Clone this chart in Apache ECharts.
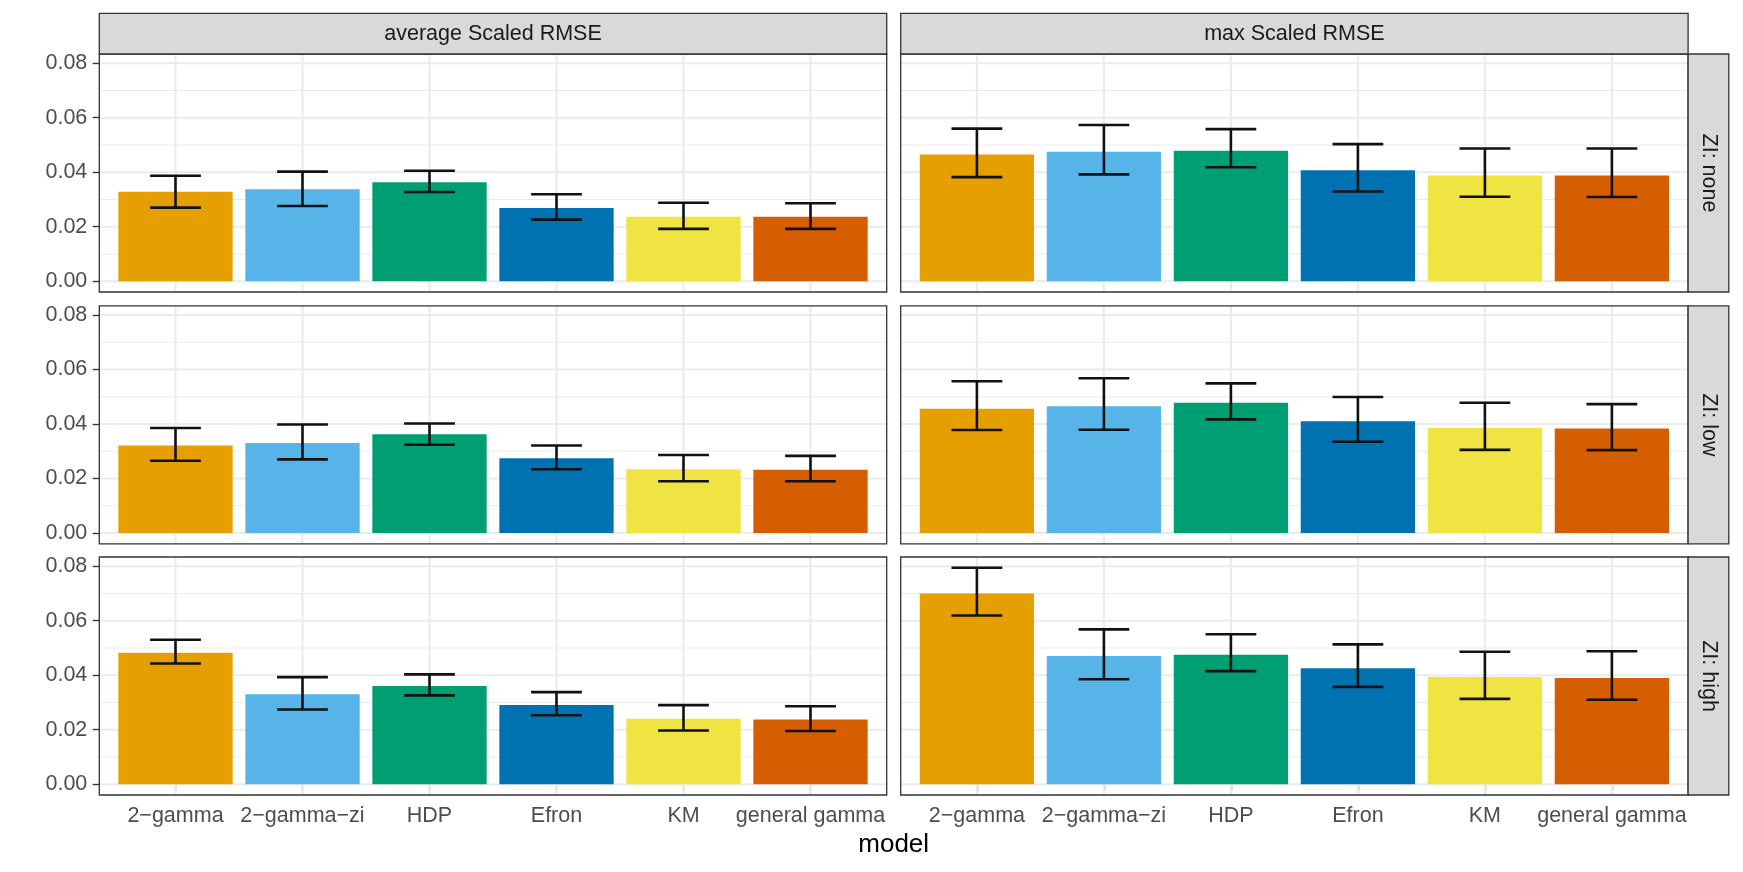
<!DOCTYPE html>
<html>
<head>
<meta charset="utf-8">
<script src="https://cdn.jsdelivr.net/npm/echarts@6/dist/echarts.min.js"></script>
<style>
html,body{margin:0;padding:0;background:#fff;}
#chart{width:1743px;height:872px;}
</style>
</head>
<body>
<div id="chart"></div>
<script>
// ---------- data ----------
const models = ['2\u2212gamma', '2\u2212gamma\u2212zi', 'HDP', 'Efron', 'KM', 'general gamma'];
const colTitles = ['average Scaled RMSE', 'max Scaled RMSE'];
const rowTitles = ['ZI: none', 'ZI: low', 'ZI: high'];
const yTickValues = [0, 0.02, 0.04, 0.06, 0.08];
const yMinorValues = [0.01, 0.03, 0.05, 0.07];
const barColors = ['#E69F00', '#56B4E9', '#009E73', '#0072B2', '#F0E442', '#D55E00'];

const avgNone   = [0.0328, 0.0337, 0.0363, 0.0269, 0.0236, 0.0236];
const avgNoneLo = [0.0270, 0.0276, 0.0327, 0.0226, 0.0192, 0.0192];
const avgNoneHi = [0.0387, 0.0402, 0.0405, 0.0319, 0.0288, 0.0286];

const maxNone   = [0.0465, 0.0475, 0.0479, 0.0407, 0.0388, 0.0388];
const maxNoneLo = [0.0382, 0.0392, 0.0418, 0.0329, 0.0310, 0.0309];
const maxNoneHi = [0.0560, 0.0573, 0.0558, 0.0503, 0.0487, 0.0487];

const avgLow   = [0.0321, 0.0330, 0.0362, 0.0274, 0.0234, 0.0232];
const avgLowLo = [0.0265, 0.0270, 0.0324, 0.0234, 0.0190, 0.0190];
const avgLowHi = [0.0385, 0.0398, 0.0402, 0.0321, 0.0286, 0.0283];

const maxLow   = [0.0456, 0.0465, 0.0478, 0.0410, 0.0385, 0.0383];
const maxLowLo = [0.0378, 0.0379, 0.0417, 0.0335, 0.0305, 0.0304];
const maxLowHi = [0.0557, 0.0568, 0.0549, 0.0499, 0.0478, 0.0473];

const avgHigh   = [0.0482, 0.0330, 0.0360, 0.0291, 0.0240, 0.0237];
const avgHighLo = [0.0443, 0.0274, 0.0326, 0.0253, 0.0197, 0.0195];
const avgHighHi = [0.0530, 0.0393, 0.0403, 0.0338, 0.0290, 0.0286];

const maxHigh   = [0.0700, 0.0470, 0.0475, 0.0425, 0.0393, 0.0390];
const maxHighLo = [0.0619, 0.0385, 0.0415, 0.0357, 0.0313, 0.0310];
const maxHighHi = [0.0794, 0.0568, 0.0550, 0.0513, 0.0486, 0.0488];

// ---------- layout ----------
const FONT = '"Liberation Sans", Arial, Helvetica, sans-serif';
const colLeft = [99.3, 900.7];
const panelW = 787.4;
const rowTop = [54, 305.8, 557];
const panelH = 238;
const stripH = 40.7;

const panels = [
  [[avgNone, avgNoneLo, avgNoneHi], [maxNone, maxNoneLo, maxNoneHi]],
  [[avgLow, avgLowLo, avgLowHi], [maxLow, maxLowLo, maxLowHi]],
  [[avgHigh, avgHighLo, avgHighHi], [maxHigh, maxHighLo, maxHighHi]]
];

let hiMax = 0;
panels.forEach(r => r.forEach(p => p[2].forEach(v => { if (v > hiMax) hiMax = v; })));
const yMin = -0.05 * hiMax;
const yMax = 1.05 * hiMax;

const grids = [], xAxes = [], yAxes = [], series = [];
let gi = 0;
for (let r = 0; r < 3; r++) {
  for (let c = 0; c < 2; c++) {
    const [vals, lo, hi] = panels[r][c];
    grids.push({
      left: colLeft[c], top: rowTop[r], width: panelW, height: panelH,
      show: true, borderColor: '#333333', borderWidth: 1.3, backgroundColor: 'transparent', z: 5
    });
    const bottomRow = r === 2;
    const leftCol = c === 0;
    xAxes.push({
      type: 'value', gridIndex: gi, min: 0.4, max: 6.6,
      axisLine: { show: false },
      splitLine: { show: false },
      axisTick: { show: bottomRow, length: 6.6, lineStyle: { color: '#333333', width: 1.3 }, customValues: [1, 2, 3, 4, 5, 6] },
      axisLabel: {
        show: bottomRow, customValues: [1, 2, 3, 4, 5, 6], margin: 10,
        formatter: v => models[Math.round(v) - 1], color: '#4D4D4D', fontSize: 21.5, fontFamily: FONT
      }
    });
    yAxes.push({
      type: 'value', gridIndex: gi, min: yMin, max: yMax,
      axisLine: { show: false },
      splitLine: { show: false },
      axisTick: { show: leftCol, length: 6.6, lineStyle: { color: '#333333', width: 1.3 }, customValues: yTickValues },
      axisLabel: {
        show: leftCol, customValues: yTickValues, margin: 12,
        formatter: v => v.toFixed(2), color: '#4D4D4D', fontSize: 21.5, fontFamily: FONT
      }
    });
    // background grid lines
    series.push({
      type: 'custom', xAxisIndex: gi, yAxisIndex: gi, silent: true, z: 1,
      data: [[1, 0]],
      renderItem: (params, api) => {
        const ch = [];
        yMinorValues.forEach(v => {
          const a = api.coord([0.4, v]), b = api.coord([6.6, v]);
          ch.push({ type: 'line', shape: { x1: a[0], y1: a[1], x2: b[0], y2: b[1] }, style: { stroke: '#EBEBEB', lineWidth: 1.1 } });
        });
        yTickValues.forEach(v => {
          const a = api.coord([0.4, v]), b = api.coord([6.6, v]);
          ch.push({ type: 'line', shape: { x1: a[0], y1: a[1], x2: b[0], y2: b[1] }, style: { stroke: '#EBEBEB', lineWidth: 2.1 } });
        });
        [1, 2, 3, 4, 5, 6].forEach(v => {
          const a = api.coord([v, yMin]), b = api.coord([v, yMax]);
          ch.push({ type: 'line', shape: { x1: a[0], y1: a[1], x2: b[0], y2: b[1] }, style: { stroke: '#EBEBEB', lineWidth: 2.1 } });
        });
        return { type: 'group', children: ch };
      }
    });
    // bars
    series.push({
      type: 'custom', xAxisIndex: gi, yAxisIndex: gi, silent: true, z: 2,
      encode: { x: 0, y: 1 },
      data: vals.map((v, i) => [i + 1, v, i]),
      renderItem: (params, api) => {
        const x = api.value(0), y = api.value(1), idx = api.value(2);
        const p0 = api.coord([x - 0.45, 0]);
        const p1 = api.coord([x + 0.45, y]);
        return {
          type: 'rect',
          shape: { x: p0[0], y: p1[1], width: p1[0] - p0[0], height: p0[1] - p1[1] },
          style: { fill: barColors[idx] }
        };
      }
    });
    // error bars
    series.push({
      type: 'custom', xAxisIndex: gi, yAxisIndex: gi, silent: true, z: 3,
      encode: { x: 0, y: [1, 2] },
      data: lo.map((l, i) => [i + 1, l, hi[i]]),
      renderItem: (params, api) => {
        const x = api.value(0), l = api.value(1), h = api.value(2);
        const pl = api.coord([x, l]), ph = api.coord([x, h]);
        const cl = api.coord([x - 0.2, l]), cr = api.coord([x + 0.2, l]);
        const st = { stroke: '#111111', lineWidth: 2.6 };
        return {
          type: 'group', children: [
            { type: 'line', shape: { x1: pl[0], y1: pl[1], x2: ph[0], y2: ph[1] }, style: st },
            { type: 'line', shape: { x1: cl[0], y1: pl[1], x2: cr[0], y2: pl[1] }, style: st },
            { type: 'line', shape: { x1: cl[0], y1: ph[1], x2: cr[0], y2: ph[1] }, style: st }
          ]
        };
      }
    });
    gi++;
  }
}

// ---------- strips & titles ----------
const graphics = [];
for (let c = 0; c < 2; c++) {
  graphics.push({
    type: 'rect', shape: { x: colLeft[c], y: rowTop[0] - stripH, width: panelW, height: stripH },
    style: { fill: '#D9D9D9', stroke: '#333333', lineWidth: 1.3 }, z: 10
  });
  graphics.push({
    type: 'text', x: colLeft[c] + panelW / 2, y: rowTop[0] - stripH / 2, z: 11,
    style: { text: colTitles[c], fill: '#1A1A1A', font: '21.5px ' + FONT, align: 'center', verticalAlign: 'middle' }
  });
}
const stripX = colLeft[1] + panelW;
for (let r = 0; r < 3; r++) {
  graphics.push({
    type: 'rect', shape: { x: stripX, y: rowTop[r], width: stripH, height: panelH },
    style: { fill: '#D9D9D9', stroke: '#333333', lineWidth: 1.3 }, z: 10
  });
  graphics.push({
    type: 'text', x: stripX + stripH / 2, y: rowTop[r] + panelH / 2, rotation: -Math.PI / 2, z: 11,
    style: { text: rowTitles[r], fill: '#1A1A1A', font: '21.5px ' + FONT, align: 'center', verticalAlign: 'middle' }
  });
}
graphics.push({
  type: 'text', x: (colLeft[0] + colLeft[1] + panelW) / 2, y: 845, z: 11,
  style: { text: 'model', fill: '#000000', font: '26px ' + FONT, align: 'center', verticalAlign: 'middle' }
});

const chart = echarts.init(document.getElementById('chart'), null, { renderer: 'canvas' });
chart.setOption({
  animation: false,
  backgroundColor: '#ffffff',
  grid: grids,
  xAxis: xAxes,
  yAxis: yAxes,
  series: series,
  graphic: graphics
});
</script>
</body>
</html>
